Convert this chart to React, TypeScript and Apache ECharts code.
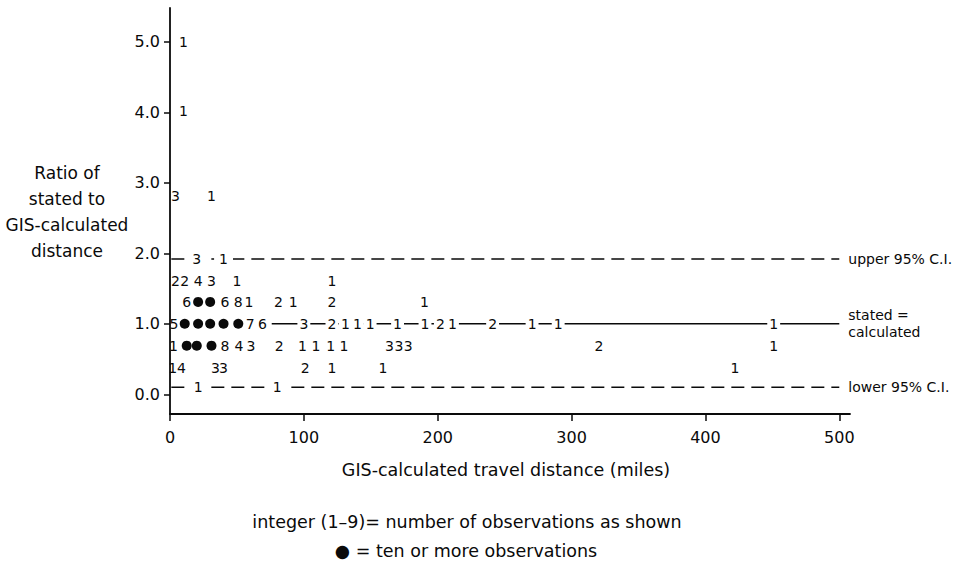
import React, { useEffect, useRef } from "react";
import * as echarts from "echarts";

// ---- data (x = GIS-calculated miles, ratio = stated / GIS-calculated, count; 10 = ten or more) ----
const xTickValues = [0, 100, 200, 300, 400, 500];
const yTickValues = [0, 1, 2, 3, 4, 5];

const rowRatios = [5.0, 4.02, 2.81, 1.92, 1.6, 1.31, 1.0, 0.69, 0.37, 0.1];

const row50: number[][] = [[10, 1]];
const row40: number[][] = [[10, 1]];
const row28: number[][] = [[4, 3], [31, 1]];
const row19: number[][] = [[20, 3], [40, 1]];
const row16: number[][] = [[4, 2], [11, 2], [21, 4], [31, 3], [50, 1], [121, 1]];
const row13: number[][] = [
  [12.5, 6], [21, 10], [30, 10], [41, 6], [51, 8], [59, 1], [81, 2], [92, 1], [121, 2], [190, 1],
];
const row10: number[][] = [
  [3, 5], [11, 10], [21, 10], [30, 10], [40, 10], [51, 10], [60, 7], [69, 6], [100, 3], [121, 2],
  [131, 1], [140, 1], [149.5, 1], [170, 1], [190.5, 1], [202, 2], [211, 1], [241, 2], [270.5, 1],
  [290, 1], [451, 1],
];
const row07: number[][] = [
  [2.5, 1], [12.5, 10], [20, 10], [31, 10], [41, 8], [51.5, 4], [60.5, 3], [81.5, 2], [99, 1],
  [109, 1], [120, 1], [130, 1], [164, 3], [171, 3], [178, 3], [320.5, 2], [451, 1],
];
const row04: number[][] = [
  [2, 1], [8.5, 4], [34, 3], [40, 3], [101, 2], [121, 1], [159, 1], [422, 1],
];
const row01: number[][] = [[21, 1], [80, 1]];

const rows = [row50, row40, row28, row19, row16, row13, row10, row07, row04, row01];

const upperCI = 1.92;
const lowerCI = 0.1;
const equality = 1.0;
const ciRange = [1, 500];
const equalityRange = [76, 500];

const FONT = "DejaVu Sans";
const INK = "#0a0a0a";

export default function App() {
  const ref = useRef<HTMLDivElement>(null);

  useEffect(() => {
    document.body.style.margin = "0";
    const chart = echarts.init(ref.current!, undefined, { renderer: "svg" });

    const lineRatios = [upperCI, equality, lowerCI];
    const numberData: any[] = [];
    const dotData: number[][] = [];
    rows.forEach((row, i) => {
      const r = rowRatios[i];
      row.forEach(([x, c]) => {
        if (c >= 10) {
          dotData.push([x, r]);
        } else {
          const onLine = lineRatios.includes(r) && (r !== equality || x >= equalityRange[0] - 6);
          numberData.push({
            value: [x, r, c],
            label: onLine
              ? { backgroundColor: "#ffffff", padding: r === equality ? [1, 2] : [1, 5] }
              : undefined,
          });
        }
      });
    });

    const rightLabel = {
      show: true,
      distance: 9,
      color: INK,
      fontFamily: FONT,
      fontSize: 14,
      lineHeight: 17,
      align: "left",
    };

    chart.setOption({
      animation: false,
      backgroundColor: "#ffffff",
      grid: { left: 170, right: 112, top: 8, bottom: 148 },
      xAxis: {
        type: "value",
        min: 0,
        max: 508,
        splitLine: { show: false },
        axisLine: { show: true, onZero: false, lineStyle: { color: INK, width: 1.8 } },
        axisTick: { show: true, length: 7, customValues: xTickValues, lineStyle: { color: INK, width: 1.5 } },
        axisLabel: {
          customValues: xTickValues,
          margin: 15,
          color: INK,
          fontFamily: FONT,
          fontSize: 16,
        },
      },
      yAxis: {
        type: "value",
        min: -0.28,
        max: 5.48,
        splitLine: { show: false },
        axisLine: { show: true, onZero: false, lineStyle: { color: INK, width: 1.8 } },
        axisTick: { show: true, length: 6, customValues: yTickValues, lineStyle: { color: INK, width: 1.5 } },
        axisLabel: {
          customValues: yTickValues,
          margin: 10,
          color: INK,
          fontFamily: FONT,
          fontSize: 16,
          formatter: (v: number) => v.toFixed(1),
        },
      },
      series: [
        {
          type: "line",
          data: [[ciRange[0], upperCI], [ciRange[1], upperCI]],
          symbol: "none",
          z: 1,
          lineStyle: { color: INK, width: 1.6, type: [13, 7] },
          endLabel: { ...rightLabel, formatter: () => "upper 95% C.I." },
        },
        {
          type: "line",
          data: [[equalityRange[0], equality], [equalityRange[1], equality]],
          symbol: "none",
          z: 1,
          lineStyle: { color: INK, width: 1.6 },
          endLabel: { ...rightLabel, formatter: () => "stated =\ncalculated" },
        },
        {
          type: "line",
          data: [[ciRange[0], lowerCI], [ciRange[1], lowerCI]],
          symbol: "none",
          z: 1,
          lineStyle: { color: INK, width: 1.6, type: [13, 7] },
          endLabel: { ...rightLabel, formatter: () => "lower 95% C.I." },
        },
        {
          type: "scatter",
          data: numberData,
          symbolSize: 0.1,
          z: 3,
          itemStyle: { color: "rgba(0,0,0,0)", opacity: 1 },
          label: {
            show: true,
            position: "inside",
            formatter: (p: any) => String(p.value[2]),
            color: INK,
            opacity: 1,
            fontFamily: FONT,
            fontSize: 14,
          },
        },
        {
          type: "scatter",
          data: dotData,
          symbol: "circle",
          symbolSize: 10,
          z: 4,
          itemStyle: { color: INK, opacity: 1 },
        },
      ],
      graphic: [
        {
          type: "text",
          x: 67,
          y: 212,
          style: {
            text: "Ratio of\nstated to\nGIS-calculated\ndistance",
            align: "center",
            verticalAlign: "middle",
            lineHeight: 26,
            fontFamily: FONT,
            fontSize: 17,
            fill: INK,
          },
        },
        {
          type: "text",
          x: 506,
          y: 470,
          style: {
            text: "GIS-calculated travel distance (miles)",
            align: "center",
            verticalAlign: "middle",
            fontFamily: FONT,
            fontSize: 17.5,
            fill: INK,
          },
        },
        {
          type: "text",
          x: 467,
          y: 522,
          style: {
            text: "integer (1–9)= number of observations as shown",
            align: "center",
            verticalAlign: "middle",
            fontFamily: FONT,
            fontSize: 17.5,
            fill: INK,
          },
        },
        {
          type: "text",
          x: 466,
          y: 551,
          style: {
            text: "● = ten or more observations",
            align: "center",
            verticalAlign: "middle",
            fontFamily: FONT,
            fontSize: 17.5,
            fill: INK,
          },
        },
      ],
    });

    return () => chart.dispose();
  }, []);

  return (
    <div
      ref={ref}
      style={{ position: "fixed", left: 0, top: 0, width: 962, height: 562, background: "#fff" }}
    />
  );
}
